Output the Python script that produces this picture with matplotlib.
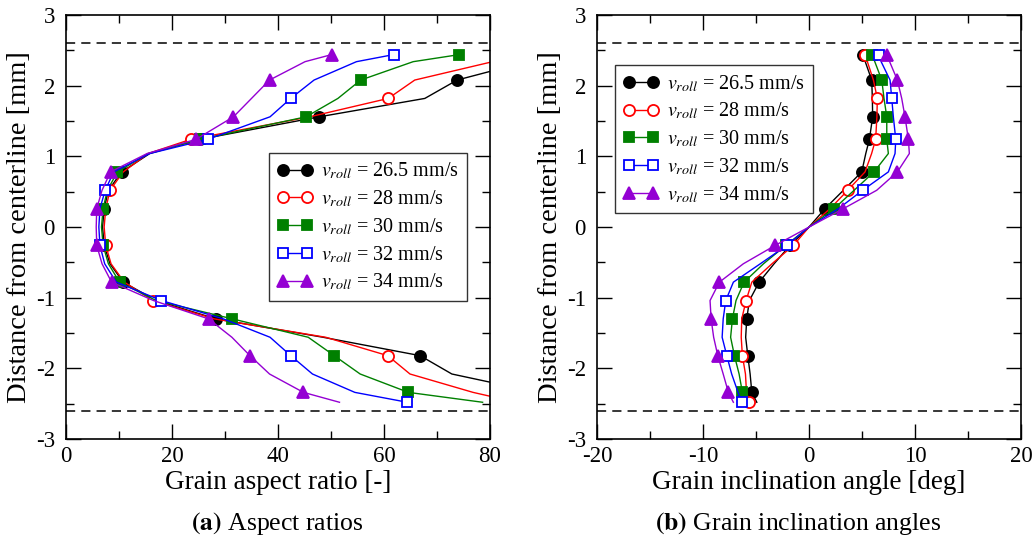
import numpy as np
import matplotlib
matplotlib.use("Agg")
import matplotlib.pyplot as plt

plt.rcParams['font.family'] = ['Liberation Serif', 'DejaVu Serif']
plt.rcParams['mathtext.fontset'] = 'stix'
plt.rcParams['axes.unicode_minus'] = False

# Positions across the strip (shared by all series) [mm]
y_pos = [2.44, 2.34, 2.08, 1.82, 1.56, 1.24, 1.04, 0.78, 0.52, 0.26, 0.0,
         -0.26, -0.52, -0.78, -1.04, -1.30, -1.56, -1.82, -2.08, -2.34, -2.48]

speeds = ['26.5', '28', '30', '32', '34']

# Grain aspect ratio [-]
ar_265 = [92, 87, 73.8, 67.7, 47.8, 25.2, 15.8, 10.5, 8.0, 7.2, 6.9, 7.2, 8.3, 10.8, 17.0, 28.3, 48.5, 66.8, 72.8, 89, 95]
ar_28 = [86, 80.5, 65.8, 60.8, 46.0, 23.5, 15.5, 10.8, 8.3, 7.5, 7.2, 7.5, 8.5, 11.0, 16.4, 28.0, 49.0, 60.7, 64.9, 76.8, 85]
ar_30 = [74.2, 65.5, 55.6, 51.3, 45.3, 25.3, 15.5, 9.7, 7.8, 7.0, 6.7, 7.0, 8.0, 10.1, 17.0, 31.4, 45.7, 50.6, 55.5, 64.6, 78.6]
ar_32 = [61.8, 54.8, 46.8, 42.4, 38.5, 26.7, 15.8, 9.0, 7.4, 6.4, 6.2, 6.4, 7.3, 9.5, 18.0, 29.7, 38.5, 42.4, 46.5, 54.5, 64.4]
ar_34 = [50.1, 45.1, 38.4, 35.0, 31.6, 24.5, 15.3, 8.4, 6.8, 5.8, 5.7, 5.8, 6.8, 8.6, 16.5, 26.9, 31.3, 34.7, 38.4, 44.8, 51.6]

# Grain inclination angle [deg]
ang_265 = [5.12, 5.3, 5.91, 5.97, 6.0, 5.69, 5.35, 4.97, 3.24, 1.5, 0.0, -1.8, -3.3, -4.71, -5.63, -5.88, -5.98, -5.78, -5.56, -5.4, -4.93]
ang_28 = [5.28, 5.5, 6.07, 6.44, 6.4, 6.28, 5.9, 5.28, 3.65, 1.98, 0.0, -1.48, -3.5, -5.4, -5.94, -6.35, -6.4, -6.29, -6.0, -5.9, -5.63]
ang_30 = [5.97, 6.2, 6.86, 7.07, 7.33, 7.33, 7.48, 6.13, 4.25, 2.36, 0.0, -2.2, -4.3, -6.13, -6.89, -7.23, -7.4, -7.04, -6.6, -6.29, -6.3]
ang_32 = [6.63, 6.8, 7.64, 7.8, 7.95, 8.18, 8.11, 7.48, 5.05, 2.77, 0.0, -2.1, -4.6, -7.14, -7.86, -8.1, -8.2, -7.76, -7.3, -6.7, -6.35]
ang_34 = [7.33, 7.6, 8.33, 8.74, 9.05, 9.37, 9.46, 8.33, 6.38, 3.24, 0.0, -3.2, -6.2, -8.46, -9.34, -9.24, -9.0, -8.61, -8.1, -7.61, -7.14]

aspect_data = [ar_265, ar_28, ar_30, ar_32, ar_34]
angle_data = [ang_265, ang_28, ang_30, ang_32, ang_34]

# Style per series: colour, marker, filled?, which points get a marker
marks_a = [0, 2, 4, 5, 7, 9, 11, 13, 15, 17, 19]
marks_b = [0, 3, 5, 8, 11, 14, 17, 20]
styles = [
    dict(color='black', marker='o', mfc='black', markevery=marks_a, ms=8),
    dict(color='red', marker='o', mfc='white', markevery=marks_b, ms=8),
    dict(color='green', marker='s', mfc='green', markevery=marks_a, ms=7),
    dict(color='blue', marker='s', mfc='white', markevery=marks_b, ms=7),
    dict(color='#9400d3', marker='^', mfc='#9400d3', markevery=marks_a, ms=8.5),
]

fig = plt.figure(figsize=(10.36, 5.39), dpi=100)
ax_a = fig.add_axes([0.0637, 0.1855, 0.4093, 0.7866])
ax_b = fig.add_axes([0.5763, 0.1855, 0.4093, 0.7866])


def draw_panel(ax, data, xlim, xmajor, xminor, xlabel, leg_anchor):
    for vals, st, sp in zip(data, styles, speeds):
        ax.plot(vals, y_pos, color=st['color'], lw=1.0, marker=st['marker'],
                markersize=st['ms'], markerfacecolor=st['mfc'],
                markeredgecolor=st['color'], markeredgewidth=1.3,
                markevery=st['markevery'],
                label=r'$v_{roll}$ = ' + sp + ' mm/s')
    # strip boundaries
    for yb in (2.6, -2.6):
        ax.axhline(yb, color='black', lw=1.1, ls=(0, (6, 4)))
    ax.set_xlim(*xlim)
    ax.set_ylim(-3, 3)
    ax.set_xticks(xmajor)
    ax.set_xticks(xminor, minor=True)
    ax.set_yticks(np.arange(-3, 4, 1))
    ax.set_yticks(np.arange(-2.5, 3, 1), minor=True)
    ax.tick_params(which='both', direction='in', top=True, right=True, labelsize=16.5, width=1)
    ax.tick_params(which='major', length=11)
    ax.tick_params(axis='x', which='major', pad=5)
    ax.tick_params(axis='y', which='major', pad=8)
    ax.tick_params(which='minor', length=6)
    for sp in ax.spines.values():
        sp.set_linewidth(1.2)
    ax.set_xlabel(xlabel, fontsize=19.5, labelpad=2)
    ax.set_ylabel('Distance from centerline [mm]', fontsize=20.5, labelpad=3)
    leg = ax.legend(loc='upper left', bbox_to_anchor=leg_anchor, borderaxespad=0,
                    fontsize=14.5, numpoints=2, handlelength=1.8, handletextpad=0.4,
                    labelspacing=0.35, borderpad=0.4, fancybox=False, framealpha=1)
    leg.get_frame().set_edgecolor('#333333')
    leg.get_frame().set_linewidth(1.0)


draw_panel(ax_a, aspect_data, (0, 80), np.arange(0, 81, 20), np.arange(10, 80, 20),
           'Grain aspect ratio [-]', (0.479, 0.6745))
draw_panel(ax_b, angle_data, (-20, 20), np.arange(-20, 21, 10), np.arange(-15, 20, 10),
           'Grain inclination angle [deg]', (0.042, 0.882))

# sub-figure captions
fig.text(0.268, 0.028, r'$\mathbf{(a)}$ Aspect ratios', ha='center', va='center', fontsize=18.5)
fig.text(0.770, 0.028, r'$\mathbf{(b)}$ Grain inclination angles', ha='center', va='center', fontsize=18.5)

fig.savefig('out.png', dpi=100)
